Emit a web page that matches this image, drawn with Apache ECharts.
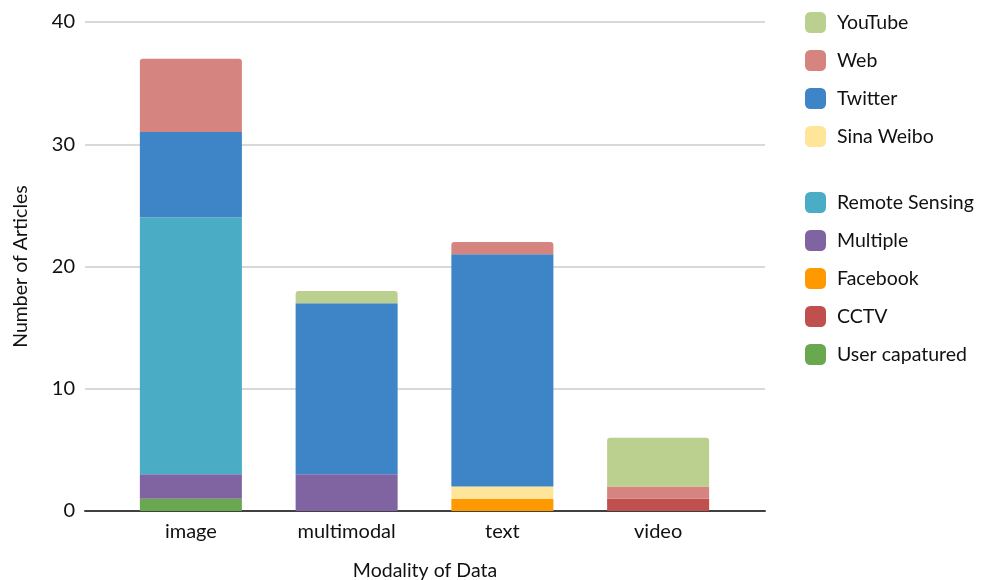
<!DOCTYPE html>
<html>
<head>
<meta charset="utf-8">
<script src="https://cdn.jsdelivr.net/npm/echarts@6/dist/echarts.min.js"></script>
<style>html,body{margin:0;padding:0;background:#fff;}#c{width:989px;height:580px;}</style>
</head>
<body>
<div id="c"></div>
<script>
const categories = ['image', 'multimodal', 'text', 'video'];
const userCaptured = [1, 0, 0, 0];
const cctv = [0, 0, 0, 1];
const facebook = [0, 0, 1, 0];
const multiple = [2, 3, 0, 0];
const remoteSensing = [21, 0, 0, 0];
const sinaWeibo = [0, 0, 1, 0];
const twitter = [7, 14, 19, 0];
const web = [6, 0, 1, 1];
const youtube = [0, 1, 0, 4];
const yTicks = [0, 10, 20, 30, 40];

const seriesDefs = [
  ['User capatured', userCaptured, '#6AA84F'],
  ['CCTV', cctv, '#C0504D'],
  ['Facebook', facebook, '#FF9900'],
  ['Multiple', multiple, '#8064A2'],
  ['Remote Sensing', remoteSensing, '#4BACC6'],
  ['Sina Weibo', sinaWeibo, '#FFE599'],
  ['Twitter', twitter, '#3D85C6'],
  ['Web', web, '#D5847F'],
  ['YouTube', youtube, '#BBD08E']
];
// index of topmost non-zero series per category (for rounded top corners)
const topIdx = categories.map((_, ci) => {
  let t = -1;
  seriesDefs.forEach(([, d], si) => { if (d[ci] > 0) t = si; });
  return t;
});
const FONT = 'Lato';
const chart = echarts.init(document.getElementById('c'));
const legendText = {fontFamily: FONT, fontSize: 19.5, color: '#111', padding: [0, 0, 0, 6]};
const legendCommon = {orient: 'vertical', left: 800, itemWidth: 21, itemHeight: 21, itemGap: 17,
  icon: 'roundRect', textStyle: legendText};
chart.setOption({
  animation: false,
  textStyle: {fontFamily: FONT},
  grid: [
    {left: 85, right: 224, top: 22, bottom: 69, containLabel: false, outerBoundsMode: 'none'},
    {left: 113, right: 253, top: 22, bottom: 69, containLabel: false, outerBoundsMode: 'none'}
  ],
  legend: [
    Object.assign({top: 7, data: ['YouTube', 'Web', 'Twitter', 'Sina Weibo']}, legendCommon),
    Object.assign({top: 187, data: ['Remote Sensing', 'Multiple', 'Facebook', 'CCTV', 'User capatured']}, legendCommon)
  ],
  xAxis: [
    {
      type: 'category', gridIndex: 0, data: categories,
      name: 'Modality of Data', nameLocation: 'middle', nameGap: 50,
      nameTextStyle: {fontFamily: FONT, fontSize: 19.5, color: '#111'},
      axisLine: {lineStyle: {color: '#404040', width: 2}},
      axisTick: {show: false}, axisLabel: {show: false}
    },
    {
      type: 'category', gridIndex: 1, data: categories,
      axisLine: {show: false}, axisTick: {show: false},
      axisLabel: {fontFamily: FONT, fontSize: 20, color: '#111', margin: 11}
    }
  ],
  yAxis: [
    {
      type: 'value', gridIndex: 0, min: yTicks[0], max: yTicks[yTicks.length - 1], interval: 10,
      name: 'Number of Articles', nameLocation: 'middle', nameGap: 54,
      nameTextStyle: {fontFamily: FONT, fontSize: 19.5, color: '#111'},
      axisLine: {show: false}, axisTick: {show: false},
      axisLabel: {fontFamily: FONT, fontSize: 20, color: '#111', margin: 10},
      splitLine: {lineStyle: {color: '#CCCCCC', width: 1.5}}
    },
    {
      type: 'value', gridIndex: 1, min: yTicks[0], max: yTicks[yTicks.length - 1], interval: 10,
      show: false, splitLine: {show: false}
    }
  ],
  series: seriesDefs.map(([name, data, color], si) => ({
    name, type: 'bar', stack: 'total', xAxisIndex: 1, yAxisIndex: 1, barWidth: '65.5%',
    itemStyle: {color},
    data: data.map((v, ci) => topIdx[ci] === si
      ? {value: v, itemStyle: {borderRadius: [3, 3, 0, 0]}}
      : v)
  }))
});
</script>
</body>
</html>
